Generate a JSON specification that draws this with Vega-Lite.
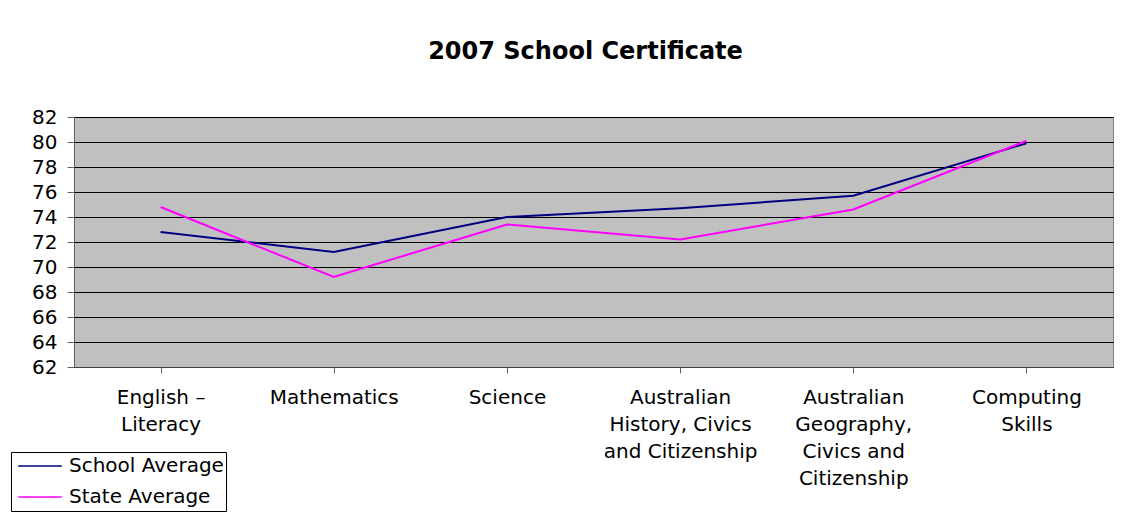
{
  "$schema": "https://vega.github.io/schema/vega-lite/v6.json",
  "width": 1039,
  "height": 250,
  "autosize": {"type": "none"},
  "padding": {"left": 74, "top": 117, "right": 35, "bottom": 145},
  "background": "white",
  "title": {
    "text": "2007 School Certificate",
    "font": "DejaVu Sans",
    "fontSize": 24,
    "fontWeight": "bold",
    "color": "black",
    "anchor": "middle",
    "dx": -8,
    "offset": 43
  },
  "data": {
    "values": [
      {"subject": "English – Literacy", "series": "School Average", "value": 72.8},
      {"subject": "Mathematics", "series": "School Average", "value": 71.2},
      {"subject": "Science", "series": "School Average", "value": 74.0},
      {"subject": "Australian History, Civics and Citizenship", "series": "School Average", "value": 74.7},
      {"subject": "Australian Geography, Civics and Citizenship", "series": "School Average", "value": 75.7},
      {"subject": "Computing Skills", "series": "School Average", "value": 79.9},
      {"subject": "English – Literacy", "series": "State Average", "value": 74.8},
      {"subject": "Mathematics", "series": "State Average", "value": 69.2},
      {"subject": "Science", "series": "State Average", "value": 73.4},
      {"subject": "Australian History, Civics and Citizenship", "series": "State Average", "value": 72.2},
      {"subject": "Australian Geography, Civics and Citizenship", "series": "State Average", "value": 74.6},
      {"subject": "Computing Skills", "series": "State Average", "value": 80.1}
    ]
  },
  "mark": {"type": "line", "strokeWidth": 2},
  "encoding": {
    "x": {
      "field": "subject",
      "type": "nominal",
      "sort": null,
      "scale": {"paddingInner": 0, "paddingOuter": 0},
      "axis": {
        "title": null,
        "labelAngle": 0,
        "labelFont": "DejaVu Sans",
        "labelFontSize": 20,
        "labelColor": "black",
        "labelLineHeight": 27,
        "labelBaseline": "top",
        "labelPadding": 14,
        "labelLimit": 300,
        "tickSize": 6,
        "tickColor": "#606060",
        "bandPosition": 0,
        "domainColor": "#404040",
        "grid": false,
        "labelExpr": "datum.value == 'English – Literacy' ? ['English –', 'Literacy'] : datum.value == 'Australian History, Civics and Citizenship' ? ['Australian', 'History, Civics', 'and Citizenship'] : datum.value == 'Australian Geography, Civics and Citizenship' ? ['Australian', 'Geography,', 'Civics and', 'Citizenship'] : datum.value == 'Computing Skills' ? ['Computing', 'Skills'] : datum.value"
      }
    },
    "y": {
      "field": "value",
      "type": "quantitative",
      "scale": {"domain": [62, 82], "nice": false, "zero": false},
      "axis": {
        "title": null,
        "values": [62, 64, 66, 68, 70, 72, 74, 76, 78, 80, 82],
        "labelFont": "DejaVu Sans",
        "labelFontSize": 20,
        "labelColor": "black",
        "labelPadding": 10,
        "tickSize": 7,
        "tickColor": "#606060",
        "domainColor": "#606060",
        "grid": true,
        "gridColor": "black",
        "gridOpacity": 1,
        "gridWidth": 1
      }
    },
    "color": {
      "field": "series",
      "type": "nominal",
      "scale": {"domain": ["School Average", "State Average"], "range": ["#000080", "#FF00FF"]},
      "legend": {
        "title": null,
        "orient": "none",
        "legendX": -63,
        "legendY": 335,
        "direction": "vertical",
        "symbolType": "stroke",
        "symbolSize": 1900,
        "symbolStrokeWidth": 1.5,
        "symbolOffset": 4,
        "clipHeight": 24,
        "labelFont": "DejaVu Sans",
        "labelFontSize": 20,
        "labelColor": "black",
        "labelOffset": 6,
        "labelLimit": 300,
        "strokeColor": "black",
        "padding": 2,
        "rowPadding": 7,
        "fillColor": "white"
      }
    }
  },
  "config": {
    "view": {"fill": "#C0C0C0", "stroke": "#808080", "strokeWidth": 1}
  }
}
